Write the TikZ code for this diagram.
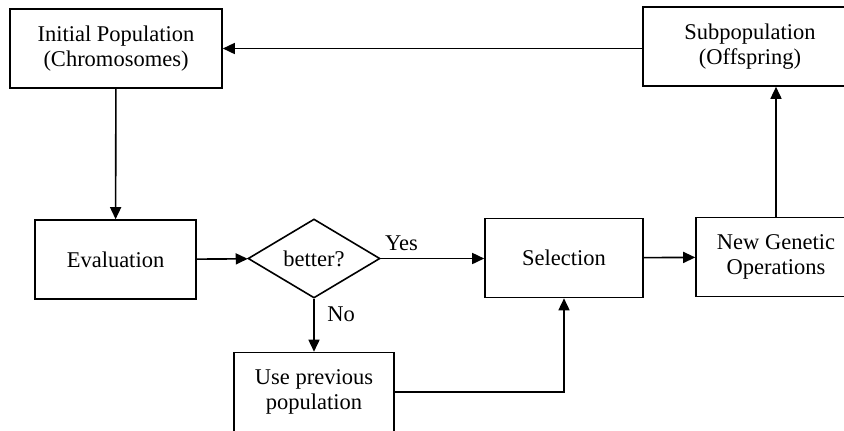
\documentclass[tikz,border=0pt]{standalone}
\usepackage{fontspec}
\setmainfont{Liberation Serif}
\usetikzlibrary{arrows.meta, shapes.geometric}

\begin{document}
\begin{tikzpicture}[x=0.5pt, y=-0.5pt,
        every node/.style={font=\fontsize{11.25}{12.5}\selectfont, align=center},
        box/.style={draw, line width=0.8pt, minimum width=#1, minimum height=39.5pt, inner sep=0pt},
        box/.default=80pt,
        test/.style={draw, diamond, line width=0.8pt, minimum width=66pt, minimum height=39.5pt, inner sep=0pt, aspect=1.67},
        flow/.style={line width=0.8pt, -{Triangle[length=6pt, width=5.5pt]}}]
            \clip (0, 0) rectangle (844, 430);
            \node[box=106pt] (init) at (116, 48.5) {Initial Population\\(Chromosomes)};
            \node[box=107pt] (subpop) at (750, 46.5) {Subpopulation\\(Offspring)};
            \node[box=80.5pt] (eval) at (115.5, 259.5) {Evaluation};
            \node[test] (better) at (314, 258.5) {better?};
            \node[box=79pt] (sel) at (564, 258) {Selection};
            \node[box] (newgen) at (776, 257) {New Genetic\\Operations};
            \node[box] (usep) at (314, 392) {Use previous\\population};
            \draw[flow] (init) -- (eval);
            \draw[flow] (eval) -- (better);
            \draw[flow] (better.east) -- node[pos=0.2, above] {Yes} (sel.west |- better.east);
            \draw[flow] (better) -- node[pos=0.3, right, xshift=3pt] {No} (usep);
            \draw[flow] (usep.east) -| (sel);
            \draw[flow] (sel) -- (newgen);
            \draw[flow] (newgen) -- (newgen.north |- subpop.south);
            \draw[flow] (subpop.west |- init.east) -- (init.east);
        \end{tikzpicture}
\end{document}
